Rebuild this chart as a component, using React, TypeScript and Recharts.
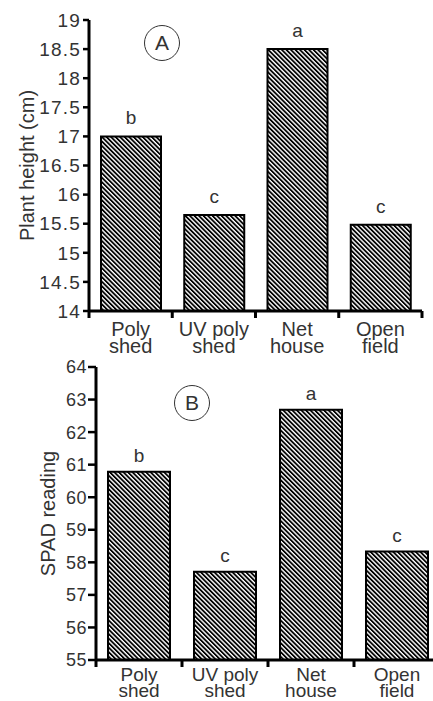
import { BarChart, Bar, XAxis, YAxis, LabelList, Label } from 'recharts'

const categories = ['Poly shed', 'UV poly shed', 'Net house', 'Open field']
const tickLines: Record<string, string[]> = {
  'Poly shed': ['Poly', 'shed'],
  'UV poly shed': ['UV poly', 'shed'],
  'Net house': ['Net', 'house'],
  'Open field': ['Open', 'field'],
}

const plantHeight = [17.0, 15.65, 18.5, 15.48]
const heightLetters = ['b', 'c', 'a', 'c']
const heightTicks = [14, 14.5, 15, 15.5, 16, 16.5, 17, 17.5, 18, 18.5, 19]

const spadReading = [60.78, 57.71, 62.69, 58.33]
const spadLetters = ['b', 'c', 'a', 'c']
const spadTicks = [55, 56, 57, 58, 59, 60, 61, 62, 63, 64]

const heightData = categories.map((name, i) => ({ name, value: plantHeight[i], letter: heightLetters[i] }))
const spadData = categories.map((name, i) => ({ name, value: spadReading[i], letter: spadLetters[i] }))

const FONT = '"Liberation Sans", Arial, sans-serif'
const TEXT = '#333'

// chart boxes
const TOP_W = 433, TOP_H = 362, TOP_M = { top: 20, right: 11, left: 0, bottom: 0 }, TOP_YW = 89
const BOT_W = 450, BOT_H = 351, BOT_M = { top: 17, right: 10, left: 0, bottom: 0 }, BOT_YW = 96

// category tick: two-line label plus tick marks at the band edges
const makeTick = (band: number, fontSize: number, firstDy: number, gap: number) => (props: any) => {
  const { x, y, payload, index } = props
  const lines = tickLines[payload.value] || [payload.value]
  const axisY = y - 8
  const last = index === categories.length - 1
  return (
    <g>
      <line x1={x - band / 2} x2={x - band / 2} y1={axisY} y2={axisY + 7} stroke="#000" strokeWidth={3} />
      {last && <line x1={x + band / 2} x2={x + band / 2} y1={axisY} y2={axisY + 7} stroke="#000" strokeWidth={3} />}
      <text x={x} y={y} textAnchor="middle" fontSize={fontSize} fontFamily={FONT} fill={TEXT}>
        {lines.map((l, i) => (
          <tspan key={i} x={x} dy={i === 0 ? firstDy : gap}>{l}</tspan>
        ))}
      </text>
    </g>
  )
}

const yTitle = (text: string, cx: number) => (props: any) => {
  const { viewBox } = props
  const cy = viewBox.y + viewBox.height / 2
  return (
    <text
      transform={`translate(${cx},${cy}) rotate(-90)`}
      textAnchor="middle"
      dominantBaseline="central"
      fontSize={20}
      fontFamily={FONT}
      fill={TEXT}
    >
      {text}
    </text>
  )
}

const Hatch = ({ id }: { id: string }) => (
  <defs>
    <pattern id={id} patternUnits="userSpaceOnUse" width="3.2" height="3.2" patternTransform="rotate(-45)">
      <rect width="3.2" height="3.2" fill="#fff" />
      <rect width="1.8" height="3.2" fill="#000" />
    </pattern>
  </defs>
)

const circleStyle = (cx: number, cy: number): React.CSSProperties => ({
  position: 'absolute',
  left: cx - 18,
  top: cy - 18,
  width: 34,
  height: 34,
  border: '1.3px solid #333',
  borderRadius: '50%',
  display: 'flex',
  alignItems: 'center',
  justifyContent: 'center',
  fontFamily: FONT,
  fontSize: 21,
  color: TEXT,
})

export default function App() {
  const topBand = (TOP_W - TOP_M.right - TOP_YW) / categories.length
  const botBand = (BOT_W - BOT_M.right - BOT_YW) / categories.length
  return (
    <div style={{ position: 'absolute', left: 0, top: 0, width: 433, height: 701, overflow: 'hidden', background: '#fff' }}>
      <div style={{ position: 'absolute', left: 0, top: 0 }}>
        <BarChart width={TOP_W} height={TOP_H} data={heightData} margin={TOP_M}>
          <Hatch id="hatchA" />
          <XAxis
            dataKey="name"
            height={51}
            axisLine={{ stroke: '#000', strokeWidth: 3 }}
            tickLine={false}
            tickSize={6}
            tickMargin={2}
            interval={0}
            tick={makeTick(topBand, 20, 17, 17)}
          />
          <YAxis
            type="number"
            domain={[14, 19]}
            ticks={heightTicks}
            width={TOP_YW}
            tickSize={6}
            tickMargin={2}
            axisLine={{ stroke: '#000', strokeWidth: 3 }}
            tickLine={{ stroke: '#000', strokeWidth: 2.5 }}
            tick={{ fontSize: 19, fontFamily: FONT, fill: TEXT, letterSpacing: 1.2 }}
          >
            <Label content={yTitle('Plant height (cm)', 27)} />
          </YAxis>
          <Bar dataKey="value" barSize={60} fill="url(#hatchA)" stroke="#000" strokeWidth={2} isAnimationActive={false}>
            <LabelList dataKey="letter" position="top" offset={12} fontSize={19} fontFamily={FONT} fill={TEXT} />
          </Bar>
        </BarChart>
        <div style={circleStyle(162, 43)}>A</div>
      </div>

      <div style={{ position: 'absolute', left: 0, top: 350, width: BOT_W, height: BOT_H }}>
        <BarChart width={BOT_W} height={BOT_H} data={spadData} margin={BOT_M}>
          <Hatch id="hatchB" />
          <XAxis
            dataKey="name"
            height={41}
            axisLine={{ stroke: '#000', strokeWidth: 3 }}
            tickLine={false}
            tickSize={6}
            tickMargin={2}
            interval={0}
            tick={makeTick(botBand, 19, 13, 16)}
          />
          <YAxis
            type="number"
            domain={[55, 64]}
            ticks={spadTicks}
            width={BOT_YW}
            tickSize={8}
            tickMargin={1}
            axisLine={{ stroke: '#000', strokeWidth: 3 }}
            tickLine={{ stroke: '#000', strokeWidth: 2.5 }}
            tick={{ fontSize: 18, fontFamily: FONT, fill: TEXT, letterSpacing: 0.5 }}
          >
            <Label content={yTitle('SPAD reading', 48)} />
          </YAxis>
          <Bar dataKey="value" barSize={62} fill="url(#hatchB)" stroke="#000" strokeWidth={2} isAnimationActive={false}>
            <LabelList dataKey="letter" position="top" offset={10} fontSize={19} fontFamily={FONT} fill={TEXT} />
          </Bar>
        </BarChart>
        <div style={circleStyle(192, 53)}>B</div>
      </div>
    </div>
  )
}
